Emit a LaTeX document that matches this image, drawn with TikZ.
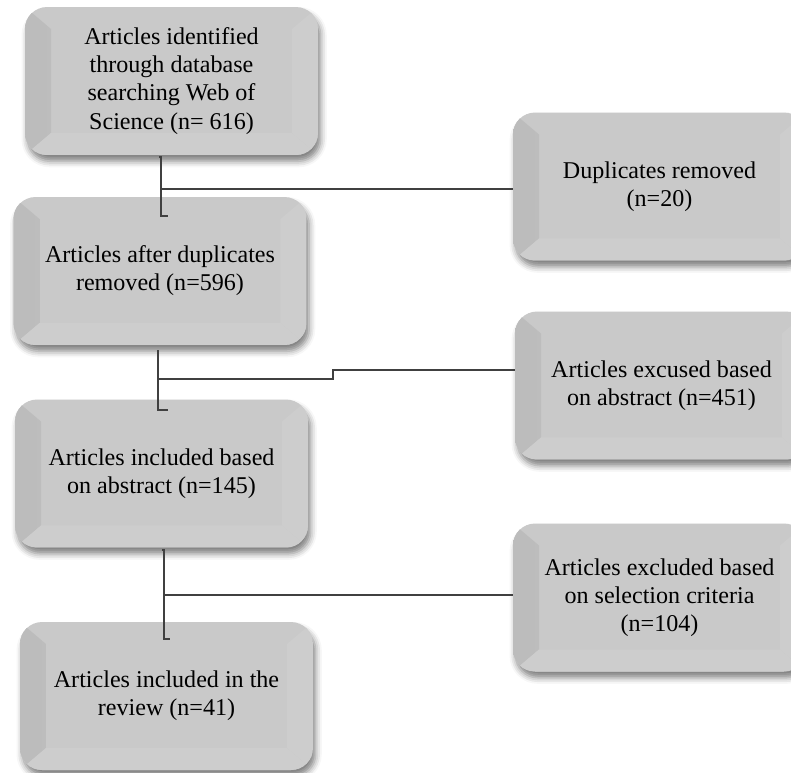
\documentclass[tikz,border=0pt]{standalone}
\usepackage{fontspec}
\setmainfont{Liberation Serif}
\usetikzlibrary{positioning, calc, shadows.blur}
\definecolor{prFace}{HTML}{C9C9C9}
\definecolor{prEdge}{HTML}{BCBCBC}
\definecolor{prLight}{HTML}{CDCDCD}
\definecolor{prLine}{HTML}{404040}
\tikzset{
  prbox/.style={rectangle, rounded corners=0.44cm, fill=prFace,
    minimum width=5.86cm, minimum height=2.96cm, inner sep=0pt,
    align=center, font=\fontsize{13.7}{16}\selectfont,
    blur shadow={shadow xshift=1.5pt, shadow yshift=-3.5pt,
      shadow blur radius=3.5pt, shadow opacity=50},
    path picture={
      \fill[sharp corners, left color=prEdge, right color=prFace!97!black]
        (path picture bounding box.north west) -- ++(26,22)
        -- ($(path picture bounding box.south west)+(26,-22)$)
        -- (path picture bounding box.south west) -- cycle;
      \fill[sharp corners, prLight]
        (path picture bounding box.south west) -- ++(26,-22)
        -- ($(path picture bounding box.south east)+(-26,-22)$)
        -- (path picture bounding box.south east) -- cycle;
      \fill[sharp corners, prLight]
        (path picture bounding box.north east) -- ++(-26,22)
        -- ($(path picture bounding box.south east)+(-26,-22)$)
        -- (path picture bounding box.south east) -- cycle;
    }},
  prlink/.style={draw=prLine, line width=1pt}
}

\begin{document}
\begin{tikzpicture}[x=0.02cm, y=-0.02cm]
  \useasboundingbox (0,0) rectangle (791,772);

  % main column
  \node[prbox] (b1) at (171.5,81) {Articles identified\\through database\\searching Web of\\Science (n= 616)};
  \node[prbox] (b2) at (160,271) {Articles after duplicates\\removed (n=596)};
  \node[prbox] (b3) at (161.5,473.5) {Articles included based\\on abstract (n=145)};
  \node[prbox] (b4) at (166.5,696) {Articles included in the\\review (n=41)};

  % removed articles
  \node[prbox] (r1) at (659.5,186.5) {Duplicates removed\\(n=20)};
  \node[prbox] (r2) at (661.5,385.5) {Articles excused based\\on abstract (n=451)};
  \node[prbox] (r3) at (659.5,597.5) {Articles excluded based\\on selection criteria\\(n=104)};

  % connectors
  \draw[prlink] ($(b1.south)+(-12.5,2)$) -| ($(b2.north)+(1,19)$) -- ++(7,0);
  \coordinate (j1) at ($(b1.south)+(-10.5,34)$);
  \draw[prlink] (j1) -- (j1 -| r1.west);

  \draw[prlink] ($(b2.south)+(-2,5)$) -- ($(b3.north)+(-3.5,11)$) -- ++(10,0);
  \coordinate (j2) at ($(b2.south)+(-2,34)$);
  \draw[prlink] (j2) -- ++(175,0) -- ++(0,-9) coordinate (k2) -- (k2 -| r2.west);

  \draw[prlink] ($(b3.south)+(0.5,2)$) -| ($(b4.north)+(-2.5,17)$) -- ++(6,0);
  \coordinate (j3) at ($(b3.south)+(2.5,47)$);
  \draw[prlink] (j3) -- (j3 -| r3.west);
\end{tikzpicture}
\end{document}
